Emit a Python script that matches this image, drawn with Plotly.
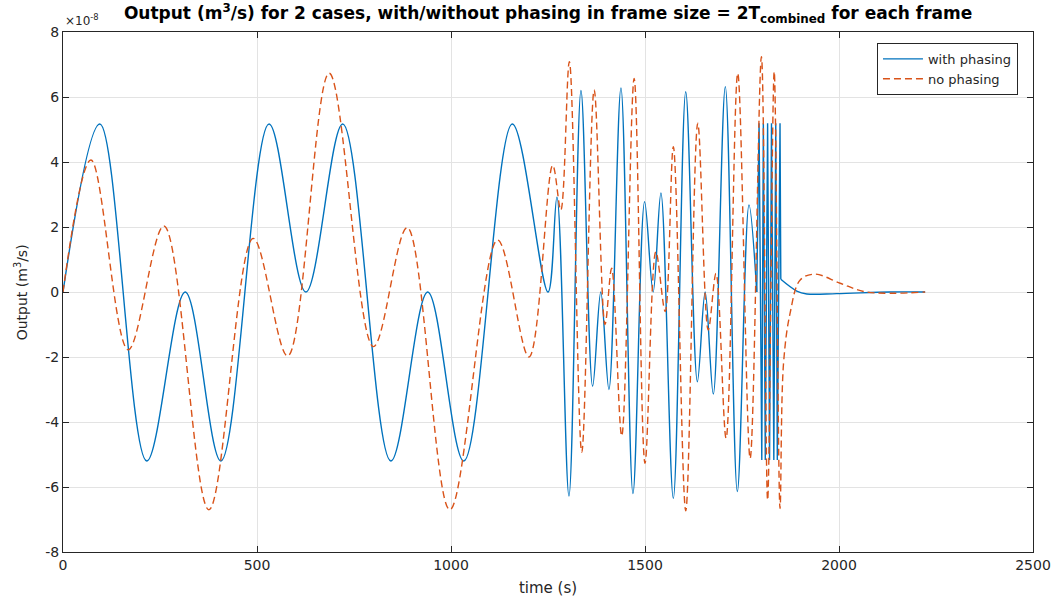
import plotly.graph_objects as go

# Output flow in units of 1e-8 m^3/s
# --- with phasing: smooth part ---
t_phase = [0, 95, 216, 315, 407, 531, 626, 721, 845, 940, 1033, 1158, 1250, 1273,
           1304, 1335, 1365, 1386, 1407, 1438, 1469, 1499, 1521, 1541, 1573, 1605,
           1635, 1655, 1676, 1707, 1738, 1768, 1788]
q_phase = [0, 5.17, -5.2, 0, -5.2, 5.17, 0, 5.17, -5.2, 0, -5.2, 5.17, 0, 2.92,
           -6.28, 6.2, -2.9, 0, -3.0, 6.28, -6.2, 2.78, 0, 3.05, -6.35, 6.16,
           -2.76, 0, -3.14, 6.32, -6.14, 2.68, 0]
# --- with phasing: switching burst ---
t_burst = [1788, 1794, 1801, 1805, 1810, 1816, 1821, 1826, 1832, 1837, 1841, 1848, 1850]
q_burst = [0, 5.19, -5.17, 5.19, -5.17, 5.19, -5.17, 5.19, -5.17, 5.19, -5.17, 5.19, 0.39]
# --- with phasing: decay tail ---
t_tail = [1850, 1891, 1917, 1994, 2131, 2222]
q_tail = [0.39, 0.03, -0.06, -0.05, 0, 0]

# --- no phasing ---
t_nophase = [0, 72, 168, 260, 376, 490, 579, 686, 800, 887, 997, 1120, 1201, 1262,
             1283, 1305, 1337, 1369, 1397, 1414, 1440, 1472, 1500, 1528, 1552, 1573,
             1605, 1636, 1663, 1683, 1709, 1739, 1771, 1800, 1816, 1833, 1848, 1857,
             1874, 1900, 1938, 2003, 2071, 2222]
q_nophase = [0, 4.06, -1.78, 2.03, -6.7, 1.65, -1.97, 6.73, -1.68, 1.98, -6.7, 1.6, -2.0, 3.9,
             2.52, 7.09, -4.93, 6.22, -1.0, 0.73, -4.43, 6.57, -5.27, 1.24, -0.6, 4.47,
             -6.73, 5.19, -1.17, 0.57, -4.5, 6.73, -5.12, 7.24, -6.4, 6.78, -6.66, -2.2,
             -0.65, 0.37, 0.55, 0.27, 0, 0]

x_ticks = [0, 500, 1000, 1500, 2000, 2500]
y_ticks = [-8, -6, -4, -2, 0, 2, 4, 6, 8]
y_tick_labels = ["-8", "-6", "-4", "-2", "0", "2", "4", "6", "8"]

BLUE = "#0072BD"
ORANGE = "#D95319"
FONT = "DejaVu Sans"

fig = go.Figure()
fig.add_trace(go.Scatter(x=t_phase, y=q_phase, mode="lines", name="with phasing",
                         line=dict(color=BLUE, width=1.4, shape="spline", smoothing=1.0),
                         legendgroup="p"))
fig.add_trace(go.Scatter(x=t_burst, y=q_burst, mode="lines", showlegend=False,
                         line=dict(color=BLUE, width=1.4), legendgroup="p"))
fig.add_trace(go.Scatter(x=t_tail, y=q_tail, mode="lines", showlegend=False,
                         line=dict(color=BLUE, width=1.4, shape="spline"), legendgroup="p"))
fig.add_trace(go.Scatter(x=t_nophase, y=q_nophase, mode="lines", name="no phasing",
                         line=dict(color=ORANGE, width=1.4, dash="7px,4px",
                                   shape="spline", smoothing=1.0)))

axis_common = dict(
    showline=True, linecolor="#262626", linewidth=1, mirror="ticks",
    ticks="inside", ticklen=6, tickcolor="#262626",
    showgrid=True, gridcolor="#e3e3e3", gridwidth=1, zeroline=False,
    automargin=False,
    tickfont=dict(family=FONT, size=14, color="#262626"),
)

fig.update_xaxes(range=[0, 2500], tickvals=x_ticks, **axis_common,
                 title=dict(text="time (s)", font=dict(family=FONT, size=15, color="#262626"),
                            standoff=10))
fig.update_yaxes(range=[-8, 8], tickvals=y_ticks, ticktext=y_tick_labels, **axis_common)

fig.update_layout(
    width=1054, height=597,
    margin=dict(l=63, r=21, t=32, b=45, autoexpand=False),
    paper_bgcolor="white", plot_bgcolor="white",
    title=dict(text="Output (m<sup>3</sup>/s) for 2 cases, with/without phasing in frame size = 2T<sub>combined</sub> for each frame",
               x=0.52, xanchor="center", y=0.988, yanchor="top",
               font=dict(family=FONT, size=17, color="black", weight="bold")),
    legend=dict(x=0.9845, xanchor="right", y=0.979, yanchor="top",
                bgcolor="white", bordercolor="#262626", borderwidth=1,
                font=dict(family=FONT, size=13, color="#262626"),
                itemwidth=40, tracegroupgap=0),
    showlegend=True,
    annotations=[
        dict(text="×10<sup>-8</sup>", xref="paper", yref="paper", x=0, y=1,
             xanchor="left", yanchor="bottom", yshift=2, showarrow=False,
             font=dict(family=FONT, size=12, color="#262626")),
        dict(text="Output (m<sup>3</sup>/s)", xref="paper", yref="paper",
             x=-0.043, y=0.5, xanchor="center", yanchor="middle", textangle=-90,
             showarrow=False, font=dict(family=FONT, size=14, color="#262626")),
    ],
)

fig.write_html("out.html")
